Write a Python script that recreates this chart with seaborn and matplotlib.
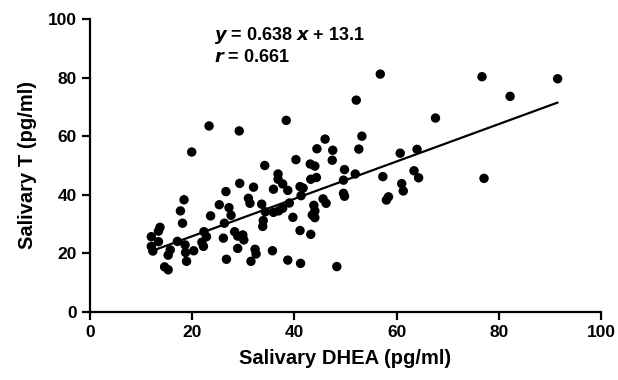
import matplotlib
matplotlib.use('Agg')
import matplotlib.pyplot as plt
import numpy as np
import pandas as pd
import seaborn as sns

# valores (DHEA, T salivares em pg/ml)
dhea = [56.8, 76.7, 91.5, 82.2, 52.1, 67.6, 38.4, 23.3, 29.2, 46.0,
        53.2, 44.4, 47.5, 52.6, 19.9, 60.7, 64.0, 34.2, 40.3, 43.1,
        44.0, 47.4, 49.8, 63.4, 64.3, 61.0, 61.3, 77.1, 57.3, 51.9,
        49.6, 36.8, 36.8, 37.7, 38.7, 35.9, 32.0, 29.3, 26.6, 43.2,
        44.3, 41.1, 41.7, 41.3, 49.6, 49.8, 58.4, 58.0, 45.6, 46.2,
        43.8, 44.0, 43.5, 44.0, 39.7, 39.0, 37.7, 36.9, 35.9, 34.3,
        33.6, 31.0, 31.3, 33.9, 33.8, 41.1, 43.2, 29.9, 30.1, 32.3,
        32.5, 35.7, 31.5, 38.7, 41.2, 48.3, 18.4, 17.7, 18.1, 25.3,
        23.6, 27.2, 27.6, 26.3, 28.3, 28.9, 26.1, 28.9, 26.7, 22.3,
        22.8, 21.9, 22.2, 20.3, 18.6, 18.7, 18.9, 17.1, 15.7, 15.3,
        14.6, 15.3, 13.7, 13.4, 12.0, 13.4, 12.0, 12.3]
testo = [81.2, 80.3, 79.6, 73.6, 72.3, 66.2, 65.4, 63.5, 61.8, 59.0,
         60.0, 55.7, 55.2, 55.6, 54.6, 54.2, 55.5, 50.0, 52.0, 50.5,
         49.8, 51.8, 48.6, 48.2, 45.8, 43.8, 41.3, 45.6, 46.2, 47.1,
         45.0, 47.1, 45.3, 43.7, 41.5, 41.9, 42.6, 43.9, 41.1, 45.3,
         45.9, 42.8, 42.3, 39.7, 40.5, 39.5, 39.3, 38.2, 38.6, 37.1,
         36.4, 34.5, 33.1, 32.2, 32.3, 37.2, 35.4, 34.5, 34.0, 34.2,
         36.8, 38.8, 37.1, 31.2, 29.2, 27.8, 26.5, 26.3, 24.6, 21.4,
         19.8, 20.9, 17.3, 17.7, 16.6, 15.5, 38.3, 34.5, 30.3, 36.6,
         32.8, 35.6, 33.0, 30.3, 27.4, 25.9, 25.2, 21.7, 18.0, 27.4,
         25.7, 23.8, 22.4, 20.9, 22.9, 20.3, 17.3, 24.1, 21.2, 19.4,
         15.4, 14.4, 28.9, 27.6, 25.7, 24.0, 22.4, 20.8]

slope = 0.638
intercept = 13.1
r_value = 0.661

df = pd.DataFrame({'DHEA': dhea, 'T': testo})

# reta de regressão entre o menor e o maior DHEA
reta = pd.DataFrame({'DHEA': [df['DHEA'].min(), df['DHEA'].max()]})
reta['T'] = slope * reta['DHEA'] + intercept

sns.set_style('ticks')
plt.rcParams['font.family'] = ['Liberation Sans', 'DejaVu Sans']
plt.rcParams['font.weight'] = 'bold'
plt.rcParams['text.color'] = 'black'
plt.rcParams['axes.labelcolor'] = 'black'
plt.rcParams['xtick.color'] = 'black'
plt.rcParams['ytick.color'] = 'black'

fig = plt.figure(figsize=(6.18, 3.8), dpi=100)
ax = fig.add_axes([0.1456, 0.179, 0.827, 0.771])

sns.scatterplot(data=df, x='DHEA', y='T', ax=ax, color='black',
                s=46, edgecolor='none', zorder=3)
sns.lineplot(data=reta, x='DHEA', y='T', ax=ax, color='black', linewidth=1.6)

ax.set_xlim(0, 100)
ax.set_ylim(0, 100)
ax.set_xticks(np.arange(0, 101, 20))
ax.set_yticks(np.arange(0, 101, 20))
ax.set_xlabel('Salivary DHEA (pg/ml)', fontsize=14.5, fontweight='bold', labelpad=6)
ax.set_ylabel('Salivary T (pg/ml)', fontsize=14.5, fontweight='bold', labelpad=8)
ax.tick_params(axis='both', labelsize=12.5, width=1.6, length=6, color='black')
for lab in ax.get_xticklabels() + ax.get_yticklabels():
    lab.set_fontweight('bold')
for s in ['left', 'bottom']:
    ax.spines[s].set_linewidth(1.6)
    ax.spines[s].set_color('black')
sns.despine(ax=ax)

ax.text(24.2, 94.3, f'$\\bf{{\\it{{y}}}}$ = {slope} $\\bf{{\\it{{x}}}}$ + {intercept}',
        fontsize=13, fontweight='bold', va='center')
ax.text(24.2, 87.0, f'$\\bf{{\\it{{r}}}}$ = {r_value}',
        fontsize=13, fontweight='bold', va='center')

fig.savefig('out.png', dpi=100)
